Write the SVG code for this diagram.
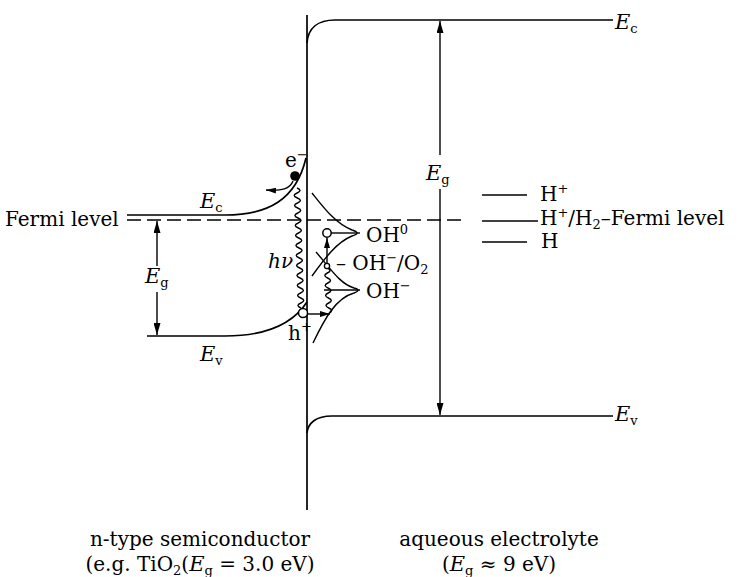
<svg xmlns="http://www.w3.org/2000/svg" width="738" height="577" viewBox="0 0 738 577">
<style>
.ln{fill:none;stroke:#000;stroke-width:1.7}
.th{fill:none;stroke:#000;stroke-width:1.4}
.dash{fill:none;stroke:#000;stroke-width:1.5;stroke-dasharray:14 6}
.t{font-family:"DejaVu Serif","Liberation Serif",serif;font-size:20px;fill:#000}
.e{font-style:italic;font-size:21px}
.s{font-size:13px}
</style>
<defs>
<marker id="ah" viewBox="0 0 12 7" refX="12" refY="3.5" markerWidth="12" markerHeight="7" orient="auto" markerUnits="userSpaceOnUse">
<path d="M0,0 L12,3.5 L0,7 z" fill="#000"/>
</marker>
<marker id="as" viewBox="0 0 10 6" refX="10" refY="3" markerWidth="10" markerHeight="6" orient="auto" markerUnits="userSpaceOnUse">
<path d="M0,0 L10,3 L0,6 z" fill="#000"/>
</marker>
</defs>
<rect width="738" height="577" fill="#fff"/>

<g id="interface">
<line class="ln" x1="307" y1="15" x2="307" y2="510"/>
</g>

<g id="semiconductor-bands">
<path class="ln" d="M127,215 L225,215 C268,215 296,200 306,158"/>
<path class="ln" d="M147,336 L225,336 C265,336 292,325 307,302"/>
<line class="dash" x1="127" y1="220" x2="466" y2="220"/>
</g>

<g id="electrolyte-bands">
<path class="ln" d="M307,43 C308,28 318,20 335,20 L613,20"/>
<path class="ln" d="M307,433 C308,423 316,416 332,416 L613,416"/>
</g>

<g id="redox-levels">
<line class="th" x1="482" y1="195" x2="527" y2="195"/>
<line class="th" x1="482" y1="221" x2="538" y2="221"/>
<line class="th" x1="482" y1="242" x2="527" y2="242"/>
</g>

<g id="distributions">
<path class="th" d="M312,193 C324,208 336,224 352,230 Q362,233 352,236 C337,242 325,258 312,276"/>
<path class="th" d="M316,252 C330,268 340,284 354,288 Q362,290 354,293 C336,298 325,318 313,343"/>
<line class="th" x1="331" y1="233" x2="360" y2="233"/>
<line class="th" x1="324" y1="290" x2="360" y2="290"/>
</g>

<g id="connectors">
<line class="th" x1="157" y1="266" x2="157" y2="221" marker-end="url(#ah)"/>
<line class="th" x1="157" y1="292" x2="157" y2="335" marker-end="url(#ah)"/>
<line class="th" x1="440" y1="155" x2="440" y2="21" marker-end="url(#ah)"/>
<line class="th" x1="440" y1="189" x2="440" y2="415" marker-end="url(#ah)"/>
<path class="th" d="M293,181 C290,189 282,191 266,190" marker-end="url(#as)"/>
<path class="th" d="M297,188 q6,2.5 0.17,5 q-6,2.5 0.17,5 q6,2.5 0.17,5 q-6,2.5 0.17,5 q6,2.5 0.17,5 q-6,2.5 0.17,5 q6,2.5 0.17,5 q-6,2.5 0.17,5 q6,2.5 0.17,5 q-6,2.5 0.17,5 q6,2.5 0.17,5 q-6,2.5 0.17,5 q6,2.5 0.17,5 q-6,2.5 0.17,5 q6,2.5 0.17,5 q-6,2.5 0.17,5 q6,2.5 0.17,5 q-6,2.5 0.17,5 q6,2.5 0.17,5 q-6,2.5 0.17,5 q6,2.5 0.17,5 q-6,2.5 0.17,5 q6,2.5 0.17,5 q-6,2.5 0.17,5"/>
<line class="th" x1="307" y1="314" x2="330" y2="314" marker-end="url(#as)"/>
<path class="th" d="M329,313 q5.5,-2.5 -0.2,-5 q-5.5,-2.5 -0.2,-5 q5.5,-2.5 -0.2,-5 q-5.5,-2.5 -0.2,-5 q5.5,-2.5 -0.2,-5 q-5.5,-2.5 -0.2,-5 q5.5,-2.5 -0.2,-5 q-5.5,-2.5 -0.2,-5 q5.5,-2.5 -0.2,-5"/>
<line class="th" x1="327" y1="263" x2="327" y2="238" marker-end="url(#as)"/>
</g>

<g id="carriers">
<circle cx="295" cy="176" r="4.8" fill="#000"/>
<circle cx="303" cy="313" r="4.5" fill="#fff" stroke="#000" stroke-width="1.5"/>
<circle cx="327" cy="233" r="4.2" fill="#fff" stroke="#000" stroke-width="1.5"/>
<circle cx="327" cy="266" r="2.6" fill="#fff" stroke="#000" stroke-width="1.3"/>
</g>

<g id="labels">
<text class="t" x="5" y="226" font-size="21">Fermi level</text>
<text class="t" x="200" y="208"><tspan class="e">E</tspan><tspan class="s" dy="4">c</tspan></text>
<text class="t" x="200" y="361"><tspan class="e">E</tspan><tspan class="s" dy="4">v</tspan></text>
<text class="t" x="145" y="283"><tspan class="e">E</tspan><tspan class="s" dy="4">g</tspan></text>
<text class="t" x="285" y="167">e<tspan class="s" dy="-8">−</tspan></text>
<text class="t" x="288" y="340">h<tspan class="s" dy="-9">+</tspan></text>
<text class="t" x="268" y="268" font-style="italic">hν</text>
<text class="t" x="426" y="180"><tspan class="e">E</tspan><tspan class="s" dy="4">g</tspan></text>
<text class="t" x="615" y="29"><tspan class="e">E</tspan><tspan class="s" dy="4">c</tspan></text>
<text class="t" x="615" y="421"><tspan class="e">E</tspan><tspan class="s" dy="4">v</tspan></text>
<text class="t" x="366" y="242" font-size="21">OH<tspan class="s" dy="-8">0</tspan></text>
<text class="t" x="336" y="270" font-size="21">– OH<tspan class="s" dy="-8">−</tspan><tspan dy="8">/O</tspan><tspan class="s" dy="4">2</tspan></text>
<text class="t" x="366" y="298" font-size="21">OH<tspan class="s" dy="-8">−</tspan></text>
<text class="t" x="540" y="201" font-size="21">H<tspan class="s" dy="-8">+</tspan></text>
<text class="t" x="540" y="225" font-size="21">H<tspan class="s" dy="-8">+</tspan><tspan dy="8">/H</tspan><tspan class="s" dy="4">2</tspan><tspan dy="-4">–Fermi level</tspan></text>
<text class="t" x="541" y="248" font-size="21">H</text>
<text class="t" x="200" y="546" text-anchor="middle" font-size="19">n-type semiconductor</text>
<text class="t" x="200" y="571" text-anchor="middle" font-size="19">(e.g. TiO<tspan class="s" dy="4">2</tspan><tspan dy="-4">(</tspan><tspan class="e" font-size="19">E</tspan><tspan class="s" dy="4">g</tspan><tspan dy="-4"> = 3.0 eV)</tspan></text>
<text class="t" x="499" y="546" text-anchor="middle" font-size="19">aqueous electrolyte</text>
<text class="t" x="499" y="571" text-anchor="middle" font-size="19">(<tspan class="e" font-size="19">E</tspan><tspan class="s" dy="4">g</tspan><tspan dy="-4"> ≈ 9 eV)</tspan></text>
</g>
</svg>
